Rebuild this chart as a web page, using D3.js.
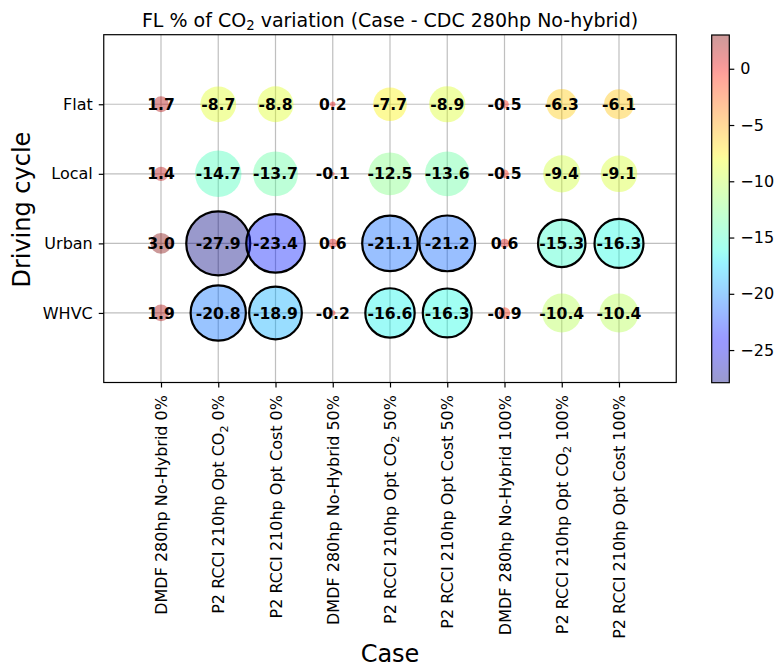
<!DOCTYPE html>
<html>
<head>
<meta charset="utf-8">
<script src="https://cdn.jsdelivr.net/npm/d3@7"></script>
<style>
  html, body { margin: 0; padding: 0; background: #fff; }
  text { font-family: "DejaVu Sans", sans-serif; }
</style>
</head>
<body>
<svg id="chart" width="777" height="669"></svg>
<script>
// Cases along the x axis (second part, when present, is a CO2 subscript)
const cases = [
  ["DMDF 280hp No-Hybrid 0%"],
  ["P2 RCCI 210hp Opt CO", "2", " 0%"],
  ["P2 RCCI 210hp Opt Cost 0%"],
  ["DMDF 280hp No-Hybrid 50%"],
  ["P2 RCCI 210hp Opt CO", "2", " 50%"],
  ["P2 RCCI 210hp Opt Cost 50%"],
  ["DMDF 280hp No-Hybrid 100%"],
  ["P2 RCCI 210hp Opt CO", "2", " 100%"],
  ["P2 RCCI 210hp Opt Cost 100%"]
];
const cycles = ["Flat", "Local", "Urban", "WHVC"];

// % variation of CO2 per driving cycle, one value per case
const flat  = [1.7, -8.7, -8.8, 0.2, -7.7, -8.9, -0.5, -6.3, -6.1];
const local = [1.4, -14.7, -13.7, -0.1, -12.5, -13.6, -0.5, -9.4, -9.1];
const urban = [3.0, -27.9, -23.4, 0.6, -21.1, -21.2, 0.6, -15.3, -16.3];
const whvc  = [1.9, -20.8, -18.9, -0.2, -16.6, -16.3, -0.9, -10.4, -10.4];

const colorTicks = [0, -5, -10, -15, -20, -25];

const rows = [flat, local, urban, whvc];
const points = [];
rows.forEach((vals, r) => vals.forEach((v, c) => points.push({ r, c, v })));

// matplotlib "jet" colormap
const jetSeg = {
  r: [[0, 0], [0.35, 0], [0.66, 1], [0.89, 1], [1, 0.5]],
  g: [[0, 0], [0.125, 0], [0.375, 1], [0.64, 1], [0.91, 0], [1, 0]],
  b: [[0, 0.5], [0.11, 1], [0.34, 1], [0.65, 0], [1, 0]]
};
function seg(list, t) {
  for (let i = 1; i < list.length; i++) {
    if (t <= list[i][0]) {
      const [x0, y0] = list[i - 1], [x1, y1] = list[i];
      return y0 + (y1 - y0) * (t - x0) / (x1 - x0);
    }
  }
  return list[list.length - 1][1];
}
function jet(t) {
  t = Math.max(0, Math.min(1, t));
  return d3.rgb(seg(jetSeg.r, t) * 255, seg(jetSeg.g, t) * 255, seg(jetSeg.b, t) * 255).toString();
}

const svg = d3.select("#chart");
const plot = { left: 103.75, right: 676.25, top: 34.7, bottom: 382.5 };

const x = d3.scaleLinear().domain([-1, 9]).range([plot.left, plot.right]);
const y = d3.scaleLinear().domain([-1, 4]).range([plot.top, plot.bottom]);

const vMin = d3.min(points, d => d.v), vMax = d3.max(points, d => d.v);
const norm = d3.scaleLinear().domain([vMin, vMax]).range([0, 1]);
const vAbsMax = d3.max(points, d => Math.abs(d.v));
const rScale = d3.scaleSqrt().domain([0, vAbsMax]).range([0, 32]);

// grid
const grid = svg.append("g");
cases.forEach((_, i) => grid.append("line")
  .attr("x1", x(i)).attr("x2", x(i)).attr("y1", plot.top).attr("y2", plot.bottom)
  .attr("stroke", "#b0b0b0").attr("stroke-width", 1.2).attr("opacity", 0.8));
cycles.forEach((_, i) => grid.append("line")
  .attr("x1", plot.left).attr("x2", plot.right).attr("y1", y(i)).attr("y2", y(i))
  .attr("stroke", "#b0b0b0").attr("stroke-width", 1.2).attr("opacity", 0.8));

// bubbles
svg.append("g").selectAll("circle").data(points).join("circle")
  .attr("cx", d => x(d.c)).attr("cy", d => y(d.r))
  .attr("r", d => rScale(Math.abs(d.v)))
  .attr("fill", d => jet(norm(d.v)))
  .attr("fill-opacity", 0.4)
  .attr("stroke", d => d.v < -15 ? "#000" : "none")
  .attr("stroke-width", 2.2);

// value labels
svg.append("g").selectAll("text").data(points).join("text")
  .attr("x", d => x(d.c)).attr("y", d => y(d.r))
  .attr("dy", "0.36em")
  .attr("text-anchor", "middle")
  .attr("font-size", 15.6)
  .attr("font-weight", "bold")
  .attr("fill", "#000")
  .text(d => d.v.toFixed(1));

// frame
svg.append("rect")
  .attr("x", plot.left).attr("y", plot.top)
  .attr("width", plot.right - plot.left).attr("height", plot.bottom - plot.top)
  .attr("fill", "none").attr("stroke", "#000").attr("stroke-width", 1.2);

// x axis
const xAxis = svg.append("g").attr("transform", `translate(0,${plot.bottom})`)
  .call(d3.axisBottom(x).tickValues(d3.range(cases.length)).tickSize(5).tickFormat(""));
xAxis.select(".domain").remove();
xAxis.selectAll(".tick line").attr("stroke", "#000").attr("stroke-width", 1.2);
xAxis.selectAll(".tick").each(function (d) {
  const parts = cases[d];
  const t = d3.select(this).append("text")
    .attr("transform", "translate(0,12.5) rotate(-90)")
    .attr("dy", "0.35em")
    .attr("text-anchor", "end")
    .attr("font-size", 16)
    .attr("fill", "#000");
  t.append("tspan").text(parts[0]);
  if (parts.length > 1) {
    t.append("tspan").attr("font-size", 11.2).attr("dy", "0.3em").text(parts[1]);
    t.append("tspan").attr("dy", "-0.21em").text(parts[2]);
  }
});

// y axis
const yAxis = svg.append("g").attr("transform", `translate(${plot.left},0)`)
  .call(d3.axisLeft(y).tickValues(d3.range(cycles.length)).tickSize(5).tickPadding(6)
    .tickFormat(i => cycles[i]));
yAxis.select(".domain").remove();
yAxis.selectAll(".tick line").attr("stroke", "#000").attr("stroke-width", 1.2);
yAxis.selectAll(".tick text").attr("font-size", 16).attr("fill", "#000")
  .style("font-family", "DejaVu Sans");

// axis titles
svg.append("text").attr("x", (plot.left + plot.right) / 2).attr("y", 662)
  .attr("text-anchor", "middle").attr("font-size", 24).text("Case");
svg.append("text").attr("transform", `translate(30,${(plot.top + plot.bottom) / 2 + 1}) rotate(-90)`)
  .attr("text-anchor", "middle").attr("font-size", 24).text("Driving cycle");

// title
const title = svg.append("text").attr("x", (plot.left + plot.right) / 2).attr("y", 26.5)
  .attr("text-anchor", "middle").attr("font-size", 19);
title.append("tspan").text("FL % of CO");
title.append("tspan").attr("font-size", 13.3).attr("dy", "0.3em").text("2");
title.append("tspan").attr("dy", "-0.21em").text(" variation (Case - CDC 280hp No-hybrid)");

// colorbar
const cb = { x: 711.7, w: 17.6, top: 35, bottom: 382.7 };
const cy = d3.scaleLinear().domain([vMin, vMax]).range([cb.bottom, cb.top]);
const defs = svg.append("defs");
const grad = defs.append("linearGradient").attr("id", "jetGrad")
  .attr("x1", 0).attr("y1", 1).attr("x2", 0).attr("y2", 0);
d3.range(0, 1.0001, 0.02).forEach(t => grad.append("stop")
  .attr("offset", t).attr("stop-color", jet(t)).attr("stop-opacity", 0.4));
svg.append("rect").attr("x", cb.x).attr("y", cb.top)
  .attr("width", cb.w).attr("height", cb.bottom - cb.top)
  .attr("fill", "url(#jetGrad)");
svg.append("rect").attr("x", cb.x).attr("y", cb.top)
  .attr("width", cb.w).attr("height", cb.bottom - cb.top)
  .attr("fill", "none").attr("stroke", "#000").attr("stroke-width", 1.2);
const cAxis = svg.append("g").attr("transform", `translate(${cb.x + cb.w},0)`)
  .call(d3.axisRight(cy).tickValues(colorTicks).tickSize(5).tickPadding(6)
    .tickFormat(v => v < 0 ? "\u2212" + Math.abs(v) : String(v)));
cAxis.select(".domain").remove();
cAxis.selectAll(".tick line").attr("stroke", "#000").attr("stroke-width", 1.2);
cAxis.selectAll(".tick text").attr("font-size", 16).attr("fill", "#000")
  .style("font-family", "DejaVu Sans");
</script>
</body>
</html>
